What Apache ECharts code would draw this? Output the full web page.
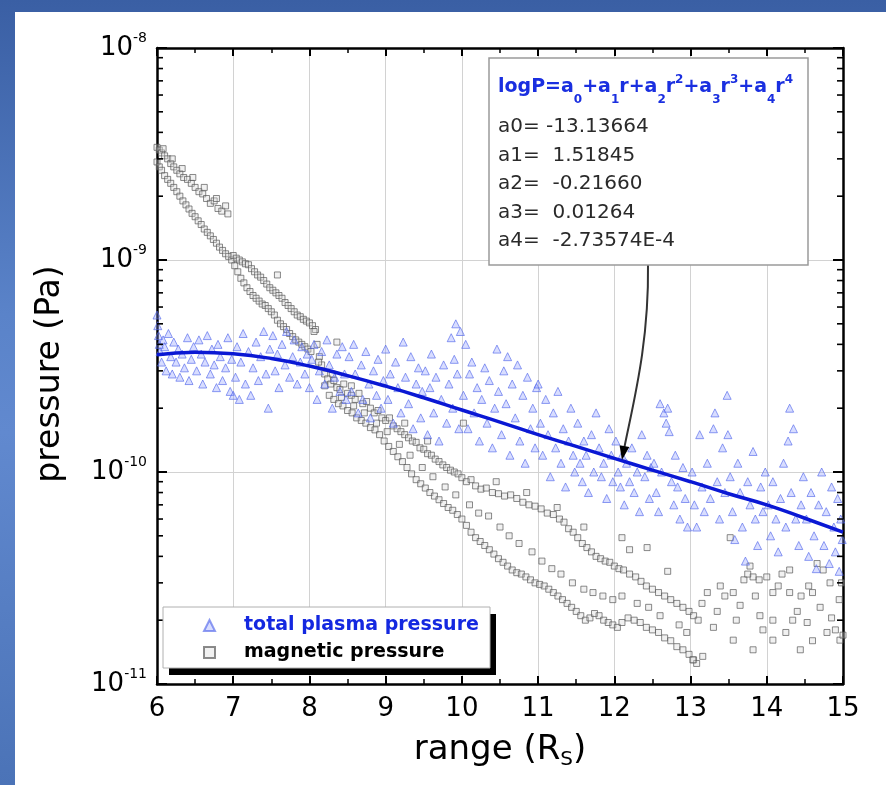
<!DOCTYPE html>
<html><head><meta charset="utf-8">
<script src="https://cdn.jsdelivr.net/npm/echarts@6/dist/echarts.min.js"></script>
<style>
html,body{margin:0;padding:0;}
#bg{position:relative;width:886px;height:785px;background:linear-gradient(180deg,#3a5fa4 0%,#5a83c9 40%,#6189cf 55%,#4b73b7 100%);overflow:hidden;}
#chart{position:absolute;left:15px;top:12px;width:871px;height:773px;background:#fff;}
</style></head><body>
<div id="bg"><div id="chart"></div></div>
<script>
// ---------- data ----------
const xMin = 6, xMax = 15;
const yMin = 1e-11, yMax = 1e-8;
const yMinorTicks = [2e-11,3e-11,4e-11,5e-11,6e-11,7e-11,8e-11,9e-11,
  2e-10,3e-10,4e-10,5e-10,6e-10,7e-10,8e-10,9e-10,
  2e-9,3e-9,4e-9,5e-9,6e-9,7e-9,8e-9,9e-9];

// polynomial fit curve
const fitRange = [6,6.5,7,7.5,8,8.5,9,9.5,10,10.5,11,11.5,12,12.5,13,13.5,14,14.5,15];
const fitPressure = [3.57e-10,3.67e-10,3.61e-10,3.43e-10,3.16e-10,2.85e-10,2.54e-10,2.24e-10,1.96e-10,1.72e-10,1.50e-10,1.32e-10,1.16e-10,1.02e-10,9.0e-11,7.9e-11,7.0e-11,6.05e-11,5.2e-11];

const coefNames = ['a0','a1','a2','a3','a4'];
const coefValues = ['-13.13664',' 1.51845',' -0.21660',' 0.01264',' -2.73574E-4'];
const arrowTarget = [12.1, 1.14e-10];

const plasmaPressure = [
 [6.00,5.5e-10],[6.01,4.9e-10],[6.02,4.4e-10],[6.03,4.0e-10],[6.04,3.7e-10],[6.06,3.3e-10],[6.08,4.2e-10],[6.1,3.9e-10],[6.12,3.0e-10],[6.15,4.5e-10],[6.18,3.5e-10],[6.2,2.9e-10],[6.22,4.1e-10],[6.25,3.3e-10],[6.28,3.8e-10],[6.3,2.8e-10],[6.33,3.6e-10],[6.36,3.1e-10],[6.4,4.3e-10],[6.42,2.7e-10],[6.45,3.4e-10],[6.48,3.9e-10],
 [6.52,3.0e-10],[6.55,4.2e-10],[6.58,3.6e-10],[6.6,2.6e-10],[6.63,3.3e-10],[6.66,4.4e-10],[6.7,2.9e-10],[6.72,3.8e-10],[6.75,3.2e-10],[6.78,2.5e-10],[6.8,4.0e-10],[6.83,3.5e-10],[6.86,2.7e-10],[6.9,3.1e-10],[6.93,4.3e-10],[6.96,2.4e-10],[6.98,3.4e-10],
 [7.0,2.3e-10],[7.03,2.8e-10],[7.05,3.9e-10],[7.08,2.2e-10],[7.1,3.3e-10],[7.13,4.5e-10],[7.16,2.6e-10],[7.2,3.7e-10],[7.23,2.3e-10],[7.26,3.1e-10],[7.3,4.1e-10],[7.33,2.7e-10],[7.36,3.5e-10],[7.4,4.6e-10],[7.43,2.9e-10],[7.46,2.0e-10],[7.48,3.8e-10],
 [7.52,4.4e-10],[7.55,3.0e-10],[7.58,3.6e-10],[7.6,2.5e-10],[7.64,4.0e-10],[7.68,3.2e-10],[7.7,4.6e-10],[7.74,2.8e-10],[7.78,3.5e-10],[7.8,4.2e-10],[7.84,2.6e-10],[7.88,3.3e-10],[7.9,3.9e-10],[7.94,2.9e-10],[7.97,3.6e-10],
 [8.0,2.5e-10],[8.03,3.4e-10],[8.06,4.0e-10],[8.1,2.2e-10],[8.13,3.0e-10],[8.16,3.7e-10],[8.2,2.6e-10],[8.23,4.2e-10],[8.26,3.2e-10],[8.3,2.0e-10],[8.33,2.8e-10],[8.36,3.6e-10],[8.4,2.4e-10],[8.43,3.9e-10],[8.46,2.9e-10],[8.48,2.2e-10],
 [8.52,3.5e-10],[8.55,2.4e-10],[8.58,4.0e-10],[8.6,2.9e-10],[8.64,1.9e-10],[8.68,3.2e-10],[8.7,2.2e-10],[8.74,3.7e-10],[8.78,2.6e-10],[8.8,1.8e-10],[8.84,3.0e-10],[8.88,2.3e-10],[8.9,3.4e-10],[8.94,2.0e-10],[8.97,2.7e-10],
 [9.0,3.8e-10],[9.03,2.2e-10],[9.06,2.9e-10],[9.1,1.7e-10],[9.13,3.3e-10],[9.16,2.5e-10],[9.2,1.9e-10],[9.23,4.1e-10],[9.26,2.8e-10],[9.3,2.1e-10],[9.33,3.5e-10],[9.36,1.6e-10],[9.4,2.6e-10],[9.43,3.1e-10],[9.46,1.8e-10],[9.48,2.4e-10],
 [9.52,3.0e-10],[9.55,1.5e-10],[9.58,2.5e-10],[9.6,3.6e-10],[9.63,1.9e-10],[9.66,2.8e-10],[9.7,1.4e-10],[9.73,2.2e-10],[9.76,3.2e-10],[9.8,1.7e-10],[9.83,2.6e-10],[9.86,4.3e-10],[9.88,2.0e-10],[9.9,3.4e-10],[9.92,5.0e-10],[9.94,2.9e-10],[9.96,1.6e-10],[9.98,4.6e-10],
 [10.02,2.3e-10],[10.05,4.0e-10],[10.08,1.6e-10],[10.1,2.9e-10],[10.13,3.3e-10],[10.16,1.9e-10],[10.2,2.5e-10],[10.23,1.4e-10],[10.26,2.2e-10],[10.3,3.1e-10],[10.33,1.7e-10],[10.36,2.7e-10],[10.4,1.3e-10],[10.43,2.0e-10],[10.46,3.8e-10],[10.48,2.4e-10],
 [10.52,1.5e-10],[10.55,3.0e-10],[10.58,2.1e-10],[10.6,3.5e-10],[10.63,1.2e-10],[10.66,2.6e-10],[10.7,1.8e-10],[10.73,3.2e-10],[10.76,1.4e-10],[10.8,2.3e-10],[10.83,1.1e-10],[10.86,2.8e-10],[10.9,1.6e-10],[10.93,2.0e-10],[10.96,1.3e-10],[10.98,2.5e-10],
 [11.0,2.6e-10],[11.03,1.7e-10],[11.06,1.2e-10],[11.1,2.2e-10],[11.13,1.5e-10],[11.16,9.5e-11],[11.2,1.9e-10],[11.23,1.3e-10],[11.26,2.4e-10],[11.3,1.1e-10],[11.33,1.6e-10],[11.36,8.5e-11],[11.4,1.4e-10],[11.43,2.0e-10],[11.46,1.2e-10],[11.48,1.0e-10],
 [11.52,1.7e-10],[11.55,1.1e-10],[11.58,9e-11],[11.6,1.4e-10],[11.63,1.2e-10],[11.66,8e-11],[11.7,1.5e-10],[11.73,1.0e-10],[11.76,1.9e-10],[11.8,1.3e-10],[11.83,9.5e-11],[11.86,1.1e-10],[11.9,7.5e-11],[11.93,1.6e-10],[11.96,1.2e-10],[11.98,9e-11],
 [12.02,1.4e-10],[12.05,1.0e-10],[12.08,8.5e-11],[12.1,1.2e-10],[12.13,7e-11],[12.16,1.1e-10],[12.2,9e-11],[12.23,1.3e-10],[12.26,8e-11],[12.3,1.0e-10],[12.33,6.5e-11],[12.36,1.5e-10],[12.4,9.5e-11],[12.43,1.2e-10],[12.46,7.5e-11],[12.48,1.05e-10],
 [12.6,2.1e-10],[12.65,1.9e-10],[12.7,2.0e-10],[12.68,1.7e-10],[12.72,1.55e-10],
 [12.52,1.1e-10],[12.55,8e-11],[12.58,6.5e-11],[12.62,1.0e-10],[12.75,9e-11],[12.78,7e-11],[12.8,1.2e-10],[12.83,8.5e-11],[12.86,6e-11],[12.9,1.05e-10],[12.93,7.5e-11],[12.96,5.5e-11],
 [13.02,1.0e-10],[13.05,7e-11],[13.08,5.5e-11],[13.12,1.5e-10],[13.15,8.5e-11],[13.18,6.5e-11],[13.22,1.1e-10],[13.26,7.5e-11],[13.3,1.6e-10],[13.32,1.9e-10],[13.35,9e-11],[13.38,6e-11],[13.42,1.3e-10],[13.45,8e-11],[13.48,2.3e-10],[13.49,1.5e-10],
 [13.52,9.5e-11],[13.55,6.5e-11],[13.58,4.8e-11],[13.62,1.1e-10],[13.65,8e-11],[13.68,5.5e-11],[13.72,3.8e-11],[13.75,9e-11],[13.78,7e-11],[13.82,1.25e-10],[13.85,6e-11],[13.88,4.5e-11],[13.92,8.5e-11],[13.95,6.5e-11],[13.98,1.0e-10],
 [14.3,2.0e-10],[14.35,1.6e-10],[14.28,1.4e-10],
 [14.02,7e-11],[14.05,5e-11],[14.08,9e-11],[14.12,6e-11],[14.15,4.2e-11],[14.18,7.5e-11],[14.22,1.1e-10],[14.25,5.5e-11],[14.32,8e-11],[14.38,6e-11],[14.42,4.5e-11],[14.45,7e-11],[14.48,9.5e-11],
 [14.52,6e-11],[14.55,4e-11],[14.58,8e-11],[14.62,5e-11],[14.65,3.5e-11],[14.68,7e-11],[14.72,1.0e-10],[14.75,4.5e-11],[14.78,6.5e-11],[14.82,3.7e-11],[14.85,8.5e-11],[14.88,5.5e-11],[14.9,4.2e-11],[14.93,7.5e-11],[14.95,3.4e-11],[14.97,6e-11],[14.99,4.8e-11]
];

const magneticPressure = [
 // upper strand near 6-7
 [6.0,3.4e-9],[6.03,3.3e-9],[6.06,3.2e-9],[6.1,3.1e-9],[6.14,3.0e-9],[6.18,2.85e-9],[6.22,2.75e-9],[6.26,2.65e-9],[6.3,2.55e-9],[6.35,2.45e-9],[6.4,2.4e-9],[6.45,2.3e-9],[6.5,2.2e-9],[6.55,2.1e-9],[6.6,2.05e-9],[6.65,1.95e-9],[6.7,1.85e-9],[6.75,1.9e-9],[6.8,1.75e-9],[6.85,1.7e-9],[6.9,1.8e-9],[6.93,1.65e-9],
 [6.08,3.35e-9],[6.2,3.0e-9],[6.33,2.7e-9],[6.47,2.45e-9],[6.62,2.2e-9],[6.78,1.95e-9],
 // lower strand 6-8
 [6.0,2.9e-9],[6.03,2.75e-9],[6.06,2.65e-9],[6.1,2.5e-9],[6.14,2.4e-9],[6.18,2.3e-9],[6.22,2.2e-9],[6.26,2.1e-9],[6.3,2.0e-9],[6.34,1.9e-9],[6.38,1.82e-9],[6.42,1.74e-9],[6.46,1.66e-9],[6.5,1.6e-9],[6.54,1.53e-9],[6.58,1.47e-9],[6.62,1.4e-9],[6.66,1.35e-9],[6.7,1.3e-9],[6.74,1.25e-9],[6.78,1.2e-9],[6.82,1.15e-9],[6.86,1.11e-9],[6.9,1.07e-9],[6.94,1.04e-9],[6.98,1.0e-9],[7.02,9.4e-10],[7.06,8.8e-10],[7.1,8.2e-10],[7.14,7.8e-10],[7.18,7.4e-10],[7.22,7.1e-10],[7.26,6.8e-10],[7.3,6.6e-10],[7.34,6.4e-10],[7.38,6.2e-10],[7.42,6.1e-10],[7.46,5.9e-10],[7.5,5.7e-10],[7.54,5.5e-10],[7.58,5.2e-10],[7.62,5.0e-10],[7.66,4.85e-10],[7.7,4.7e-10],[7.74,4.5e-10],[7.78,4.35e-10],[7.82,4.2e-10],[7.86,4.1e-10],[7.9,4.0e-10],[7.94,3.9e-10],[7.98,3.8e-10],[8.02,3.7e-10],
 // second strand 7-8
 [7.0,1.05e-9],[7.04,1.02e-9],[7.08,1.0e-9],[7.12,9.8e-10],[7.16,9.6e-10],[7.2,9.5e-10],[7.24,9.1e-10],[7.28,8.8e-10],[7.32,8.5e-10],[7.36,8.3e-10],[7.4,8.0e-10],[7.44,7.7e-10],[7.48,7.4e-10],[7.52,7.2e-10],[7.56,7.0e-10],[7.6,6.8e-10],[7.64,6.6e-10],[7.68,6.3e-10],[7.72,6.1e-10],[7.76,5.9e-10],[7.8,5.7e-10],[7.84,5.5e-10],[7.88,5.4e-10],[7.92,5.25e-10],[7.96,5.15e-10],[8.0,5.05e-10],[8.04,4.9e-10],[8.08,4.7e-10],
 [7.58,8.5e-10],[8.36,4.1e-10],
 // upper band 8-13
 [8.06,4.6e-10],[8.1,4.0e-10],[8.13,3.5e-10],[8.16,3.2e-10],[8.2,2.9e-10],[8.24,2.75e-10],[8.28,2.6e-10],[8.32,2.7e-10],[8.36,2.5e-10],[8.4,2.45e-10],[8.45,2.6e-10],[8.5,2.35e-10],[8.55,2.3e-10],[8.6,2.2e-10],[8.65,2.35e-10],[8.7,2.1e-10],[8.75,2.15e-10],[8.8,2.0e-10],[8.85,1.9e-10],[8.9,1.95e-10],[8.95,1.8e-10],[9.0,1.75e-10],[9.05,1.8e-10],[9.1,1.65e-10],[9.15,1.6e-10],[9.2,1.55e-10],[9.25,1.5e-10],[9.3,1.45e-10],[9.35,1.4e-10],[9.4,1.38e-10],[9.45,1.3e-10],[9.5,1.28e-10],[9.55,1.22e-10],[9.6,1.2e-10],[9.65,1.15e-10],[9.7,1.12e-10],[9.75,1.08e-10],[9.8,1.05e-10],[9.85,1.02e-10],[9.9,1.0e-10],[9.95,9.8e-11],[10.0,9.4e-11],[10.06,9.0e-11],[10.12,9.2e-11],[10.18,8.6e-11],[10.25,8.3e-11],[10.32,8.4e-11],[10.4,8.0e-11],[10.48,7.9e-11],[10.56,7.7e-11],[10.64,7.8e-11],[10.72,7.5e-11],[10.8,7.2e-11],[10.88,7.0e-11],[10.96,6.9e-11],[11.04,6.7e-11],[11.12,6.4e-11],[11.2,6.3e-11],[11.28,6.0e-11],[11.34,5.8e-11],[11.4,5.4e-11],[11.46,5.2e-11],[11.52,4.9e-11],[11.58,4.6e-11],[11.64,4.4e-11],[11.7,4.2e-11],[11.76,4.0e-11],[11.82,3.9e-11],[11.88,3.8e-11],[11.94,3.75e-11],[12.0,3.6e-11],[12.06,3.5e-11],[12.12,3.45e-11],[12.2,3.3e-11],[12.28,3.2e-11],[12.35,3.05e-11],[12.42,2.9e-11],[12.5,2.8e-11],[12.58,2.7e-11],[12.66,2.6e-11],[12.74,2.5e-11],[12.82,2.4e-11],[12.9,2.3e-11],[12.98,2.2e-11],[13.04,2.1e-11],
 // lower band 8-13
 [8.12,3.3e-10],[8.2,2.55e-10],[8.26,2.3e-10],[8.32,2.2e-10],[8.38,2.1e-10],[8.44,2.05e-10],[8.5,1.95e-10],[8.56,1.9e-10],[8.62,1.8e-10],[8.68,1.75e-10],[8.74,1.7e-10],[8.8,1.62e-10],[8.86,1.58e-10],[8.92,1.5e-10],[8.98,1.4e-10],[9.04,1.32e-10],[9.1,1.25e-10],[9.16,1.18e-10],[9.22,1.12e-10],[9.28,1.05e-10],[9.34,9.8e-11],[9.4,9.2e-11],[9.46,8.8e-11],[9.52,8.4e-11],[9.58,8.0e-11],[9.64,7.7e-11],[9.7,7.4e-11],[9.76,7.1e-11],[9.82,6.8e-11],[9.88,6.6e-11],[9.94,6.3e-11],[10.0,6.0e-11],[10.06,5.6e-11],[10.12,5.2e-11],[10.18,4.9e-11],[10.24,4.7e-11],[10.3,4.5e-11],[10.36,4.3e-11],[10.42,4.1e-11],[10.48,3.9e-11],[10.54,3.75e-11],[10.6,3.6e-11],[10.66,3.45e-11],[10.72,3.35e-11],[10.78,3.3e-11],[10.84,3.2e-11],[10.9,3.1e-11],[10.96,3.0e-11],[11.02,2.95e-11],[11.08,2.9e-11],[11.14,2.8e-11],[11.2,2.7e-11],[11.26,2.6e-11],[11.32,2.5e-11],[11.38,2.4e-11],[11.44,2.3e-11],[11.5,2.2e-11],[11.56,2.1e-11],[11.62,2.0e-11],[11.68,2.05e-11],[11.74,2.15e-11],[11.8,2.1e-11],[11.86,2.0e-11],[11.92,1.95e-11],[11.98,1.9e-11],[12.04,1.85e-11],[12.1,1.95e-11],[12.18,2.05e-11],[12.26,2.0e-11],[12.34,1.95e-11],[12.42,1.85e-11],[12.5,1.8e-11],[12.58,1.75e-11],[12.66,1.65e-11],[12.74,1.6e-11],[12.82,1.5e-11],[12.9,1.45e-11],[12.98,1.38e-11],[13.04,1.3e-11],[13.08,1.25e-11],
 // scattered between the bands
 [8.3,2.9e-10],[8.42,2.25e-10],[8.58,2.05e-10],[8.72,1.9e-10],[8.88,1.7e-10],[9.02,1.55e-10],[9.18,1.35e-10],[9.32,1.2e-10],[9.48,1.05e-10],[9.62,9.5e-11],[9.78,8.5e-11],[9.92,7.8e-11],[10.02,1.7e-10],[10.1,7.0e-11],[10.22,6.4e-11],[10.35,6.2e-11],[10.5,5.5e-11],[10.62,5.0e-11],[10.75,4.6e-11],[10.92,4.2e-11],[11.05,3.8e-11],[11.18,3.5e-11],[11.3,3.3e-11],[11.45,3.0e-11],[11.6,2.8e-11],[11.72,2.7e-11],[11.85,2.6e-11],[11.98,2.5e-11],[12.1,2.6e-11],[12.2,4.3e-11],[12.1,4.9e-11],[12.43,4.4e-11],[12.3,2.4e-11],[12.45,2.3e-11],[12.6,2.1e-11],[12.7,3.4e-11],[12.85,1.9e-11],[12.95,1.75e-11],[8.55,2.55e-10],[9.25,1.7e-10],[9.55,1.4e-10],[10.45,9.0e-11],[10.85,8.0e-11],[11.25,6.8e-11],[11.6,5.5e-11],
 // plateau 13-15
 [13.22,2.7e-11],[13.39,2.9e-11],[13.56,2.7e-11],[13.82,3.2e-11],[14.0,3.2e-11],[14.08,2.7e-11],[14.3,2.7e-11],[14.6,2.7e-11],[14.74,3.45e-11],[14.83,3.0e-11],[13.65,2.35e-11],[13.91,2.1e-11],[14.08,2.0e-11],[14.34,2.0e-11],[14.53,1.95e-11],[14.79,1.75e-11],[14.96,1.61e-11],[13.3,1.85e-11],[13.56,1.61e-11],[13.82,1.45e-11],[14.08,1.61e-11],[14.44,1.45e-11],[13.16,1.35e-11],[13.03,1.3e-11],[13.52,4.9e-11],[13.78,3.6e-11],[14.3,3.45e-11],[14.66,3.7e-11],
 [13.7,3.1e-11],[13.75,3.3e-11],[13.9,3.1e-11],[14.15,2.9e-11],[14.2,3.3e-11],[13.45,2.6e-11],[13.35,2.2e-11],[13.1,2.0e-11],[13.15,2.4e-11],[14.4,2.2e-11],[14.45,2.6e-11],[14.7,2.3e-11],[14.85,2.05e-11],[14.9,1.8e-11],[15.0,1.7e-11],[14.95,2.5e-11],[14.6,1.6e-11],[14.25,1.75e-11],[13.95,1.8e-11],[13.6,2.0e-11],[13.85,2.6e-11],[14.55,2.9e-11],[14.98,3.0e-11]
];

// ---------- chart ----------
const FONT = 'DejaVu Sans';
const chart = echarts.init(document.getElementById('chart'), null, {renderer:'canvas'});

const axisLineStyle = {color:'#000', width:2.5};
const xAxisBase = {
  type:'value', min:xMin, max:xMax, interval:1,
  axisLine:{show:true, onZero:false, lineStyle:axisLineStyle},
  axisTick:{show:true, inside:true, length:8, lineStyle:{color:'#000', width:2}},
  minorTick:{show:true, splitNumber:2, length:5, lineStyle:{color:'#000', width:1.5}}
};
const yAxisBase = {
  type:'log', logBase:10, min:yMin, max:yMax,
  axisLine:{show:true, onZero:false, lineStyle:axisLineStyle},
  axisTick:{show:true, inside:true, length:10, lineStyle:{color:'#000', width:2}}
};

const eqText = '{m|logP=a}{sb|0}{m|+a}{sb|1}{m|r+a}{sb|2}{m|r}{sp|2}{m|+a}{sb|3}{m|r}{sp|3}{m|+a}{sb|4}{m|r}{sp|4}';
const coefText = coefNames.map((n,i)=> n + '= ' + coefValues[i]).join('\n');
const eqColor = '#1a2fe0';

// legend box placement (chart pixels)
const legendBox = {x:148, y:595, w:327, h:61};

const option = {
  animation:false,
  textStyle:{fontFamily:FONT},
  grid:{left:142, top:36, width:686, height:636},
  xAxis:[
    Object.assign({}, xAxisBase, {
      position:'bottom',
      splitLine:{show:true, lineStyle:{color:'#d2d2d2', width:1}},
      axisLabel:{fontSize:26, color:'#000', margin:12, fontFamily:FONT},
      name:'range (R{s|S})', nameLocation:'middle', nameGap:46,
      nameTextStyle:{fontSize:34, color:'#000', fontFamily:FONT, lineHeight:40,
        rich:{s:{fontSize:20, color:'#000', fontFamily:FONT, verticalAlign:'bottom', lineHeight:10}}}
    }),
    Object.assign({}, xAxisBase, {position:'top', axisLabel:{show:false}, splitLine:{show:false}})
  ],
  yAxis:[
    Object.assign({}, yAxisBase, {
      position:'left',
      splitLine:{show:true, lineStyle:{color:'#d2d2d2', width:1}},
      axisLabel:{margin:10, color:'#000',
        formatter:function(v){ return '{b|10}{s|' + Math.round(Math.log10(v)) + '}'; },
        rich:{b:{fontSize:26, lineHeight:34, color:'#000', fontFamily:FONT},
              s:{fontSize:14, lineHeight:14, verticalAlign:'top', color:'#000', fontFamily:FONT}}},
      name:'pressure (Pa)', nameLocation:'middle', nameGap:90,
      nameTextStyle:{fontSize:33, color:'#000', fontFamily:FONT, padding:[0,16,0,0]}
    }),
    Object.assign({}, yAxisBase, {position:'right', axisLabel:{show:false}, splitLine:{show:false}})
  ],
  legend:{
    z:20,
    left:legendBox.x, top:legendBox.y, orient:'vertical', selectedMode:false,
    data:[{name:'total plasma pressure', textStyle:{color:'#1428e0'}},
          {name:'magnetic pressure', textStyle:{color:'#000'}}],
    itemWidth:11, itemHeight:11, itemGap:8,
    padding:[9,14,7,40],
    backgroundColor:'transparent', borderWidth:0,
    textStyle:{fontSize:19, fontWeight:'bold', fontFamily:FONT, padding:[0,0,0,24]}
  },
  series:[
    {
      name:'magnetic pressure', type:'scatter', symbol:'rect', symbolSize:6,
      data:magneticPressure,
      itemStyle:{color:'rgba(215,215,215,0.45)', borderColor:'rgba(85,85,85,0.85)', borderWidth:1},
      z:2
    },
    {
      name:'total plasma pressure', type:'scatter', symbol:'triangle', symbolSize:8,
      data:plasmaPressure,
      itemStyle:{color:'rgba(135,150,255,0.4)', borderColor:'rgba(80,100,235,0.8)', borderWidth:1},
      z:3
    },
    {
      name:'fit', type:'line', smooth:true, symbol:'none',
      data:fitRange.map((r,i)=>[r, fitPressure[i]]),
      lineStyle:{color:'#0a18d4', width:3.5},
      z:4
    },
    {
      name:'minor ticks', type:'custom', silent:true, z:6,
      data:yMinorTicks.map(v=>[xMin, v]),
      renderItem:function(params, api){
        const y = api.coord([xMin, api.value(1)])[1];
        const cs = params.coordSys;
        return {type:'group', children:[
          {type:'line', shape:{x1:cs.x, y1:y, x2:cs.x+6, y2:y}, style:{stroke:'#000', lineWidth:1.6}},
          {type:'line', shape:{x1:cs.x+cs.width-6, y1:y, x2:cs.x+cs.width, y2:y}, style:{stroke:'#000', lineWidth:1.6}}
        ]};
      }
    }
  ],
  graphic:[
    {type:'rect', id:'legShadow', z:15, shape:{x:legendBox.x+6, y:legendBox.y+7, width:legendBox.w, height:legendBox.h},
     style:{fill:'#000'}},
    {type:'rect', id:'legBox', z:16, shape:{x:legendBox.x, y:legendBox.y, width:legendBox.w, height:legendBox.h},
     style:{fill:'#fff', stroke:'#b0b0b0', lineWidth:1}},
    {type:'rect', id:'eqbox', z:100, shape:{x:474, y:46, width:319, height:207},
     style:{fill:'#fff', stroke:'#9a9a9a', lineWidth:1.5}},
    {type:'text', id:'eq', z:101, x:483, y:75,
     style:{text:eqText, verticalAlign:'middle', align:'left',
       rich:{
         m:{fontSize:19, fontWeight:'bold', fill:eqColor, fontFamily:FONT, lineHeight:40},
         sb:{fontSize:12, fontWeight:'bold', fill:eqColor, fontFamily:FONT, lineHeight:12, padding:[25,0,0,0]},
         sp:{fontSize:12, fontWeight:'bold', fill:eqColor, fontFamily:FONT, lineHeight:12, padding:[0,0,15,0]}
       }}},
    {type:'text', id:'coef', z:101, x:483, y:101,
     style:{text:coefText, fontSize:20, fontFamily:FONT, fill:'#2a2a2a', lineHeight:28.5, verticalAlign:'top', align:'left'}}
  ]
};
chart.setOption(option);

// arrow from the box to the fitted curve
const tip = chart.convertToPixel({xAxisIndex:0, yAxisIndex:0}, arrowTarget);
const tx = tip[0], ty = tip[1];
chart.setOption({graphic:[
  {type:'bezierCurve', id:'arrowLine', z:99,
   shape:{x1:633, y1:253, cpx1:634, cpy1:330, cpx2:tx+12, cpy2:ty-60, x2:tx+2.5, y2:ty-13},
   style:{stroke:'#333', lineWidth:2, fill:'none'}},
  {type:'polygon', id:'arrowHead', z:99,
   shape:{points:[[tx,ty],[tx+7.4,ty-12.9],[tx-2.4,ty-14.7]]},
   style:{fill:'#000'}}
]});
</script></body></html>
